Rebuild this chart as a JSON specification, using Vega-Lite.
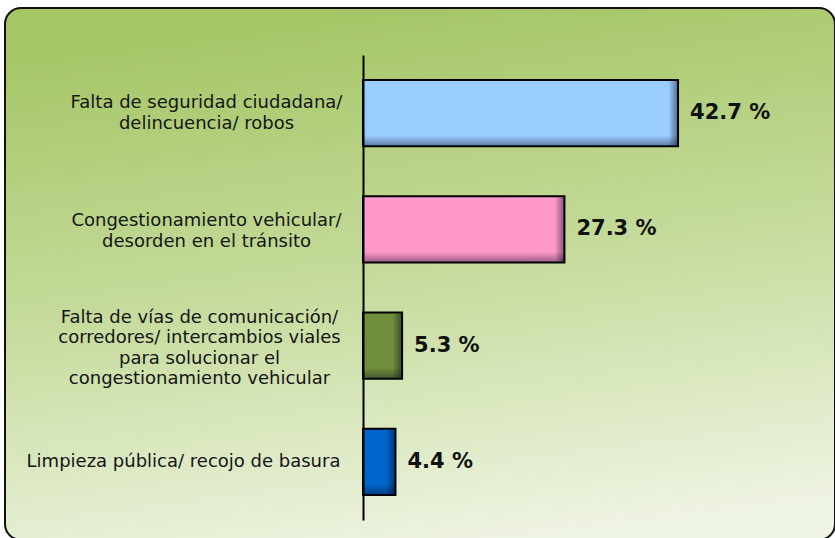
{
  "$schema": "https://vega.github.io/schema/vega-lite/v6.json",
  "width": 830,
  "height": 532,
  "autosize": "none",
  "padding": {"left": 5, "top": 8, "right": 0, "bottom": 0},
  "background": "white",
  "config": {"view": {"stroke": null}},
  "datasets": {
    "bars": [
      {"cat": "Falta de seguridad ciudadana/|delincuencia/ robos", "pct": 42.7, "lab": "42.7 %"},
      {"cat": "Congestionamiento vehicular/|desorden en el tránsito", "pct": 27.3, "lab": "27.3 %"},
      {"cat": "Falta de vías de comunicación/|corredores/ intercambios viales|para solucionar el|congestionamiento vehicular", "pct": 5.3, "lab": "5.3 %"},
      {"cat": "Limpieza pública/ recojo de basura", "pct": 4.4, "lab": "4.4 %"}
    ]
  },
  "layer": [
    {
      "data": {"values": [{"frame": 1}]},
      "mark": {
        "type": "rect",
        "cornerRadius": 16,
        "stroke": "#111111",
        "strokeWidth": 2,
        "fill": {
          "gradient": "linear",
          "x1": 0.4, "y1": 0, "x2": 0.6, "y2": 1,
          "stops": [
            {"offset": 0, "color": "#a4c665"},
            {"offset": 0.5, "color": "#c6db9c"},
            {"offset": 1, "color": "#eef4e2"}
          ]
        }
      },
      "encoding": {
        "x": {"value": 0},
        "x2": {"value": "width"},
        "y": {"value": 0},
        "y2": {"value": "height"}
      }
    },
    {
      "data": {"name": "bars"},
      "mark": {"type": "bar", "strokeWidth": 0},
      "encoding": {
        "y": {
          "field": "cat", "type": "nominal", "sort": null,
          "scale": {"range": [47, 512], "paddingInner": 0.431, "paddingOuter": 0.2155},
          "axis": {
            "title": null,
            "zindex": 1,
            "offset": -358,
            "ticks": false,
            "tickSize": 0,
            "domainColor": "#000000",
            "domainWidth": 2,
            "labelExpr": "split(datum.label, '|')",
            "labelAlign": "center",
            "labelBaseline": "middle",
            "labelFont": "DejaVu Sans",
            "labelFontSize": 18,
            "labelLineHeight": 20.5,
            "labelColor": "#151515",
            "labelLimit": 500,
            "labelOffset": {
              "condition": [
                {"test": "datum.value === 'Falta de seguridad ciudadana/|delincuencia/ robos'", "value": -10},
                {"test": "datum.value === 'Congestionamiento vehicular/|desorden en el tránsito'", "value": -8},
                {"test": "datum.value === 'Falta de vías de comunicación/|corredores/ intercambios viales|para solucionar el|congestionamiento vehicular'", "value": -28}
              ],
              "value": 0
            },
            "labelPadding": {
              "condition": [
                {"test": "datum.value === 'Falta de seguridad ciudadana/|delincuencia/ robos'", "value": 157},
                {"test": "datum.value === 'Congestionamiento vehicular/|desorden en el tránsito'", "value": 157},
                {"test": "datum.value === 'Falta de vías de comunicación/|corredores/ intercambios viales|para solucionar el|congestionamiento vehicular'", "value": 164}
              ],
              "value": 180
            }
          }
        },
        "x": {"field": "pct", "type": "quantitative", "scale": {"domain": [0, 50], "range": [358, 726.9]}, "axis": null},
        "color": {
          "field": "cat", "type": "nominal", "sort": null, "legend": null,
          "scale": {"range": ["#99ccff", "#ff99cc", "#6f8f3d", "#0066cc"]}
        }
      }
    },
    {
      "data": {"name": "bars"},
      "mark": {
        "type": "tick", "size": 64, "thickness": 9, "xOffset": -5, "opacity": 1, "filled": true,
        "fill": {
          "gradient": "linear", "x1": 0, "y1": 0, "x2": 1, "y2": 0,
          "stops": [
            {"offset": 0, "color": "rgba(0,0,0,0)"},
            {"offset": 1, "color": "rgba(0,0,40,0.45)"}
          ]
        }
      },
      "encoding": {
        "y": {"field": "cat", "type": "nominal", "sort": null},
        "x": {"field": "pct", "type": "quantitative", "axis": null}
      }
    },
    {
      "data": {"name": "bars"},
      "mark": {
        "type": "bar", "stroke": "#000000", "strokeWidth": 2,
        "fill": {
          "gradient": "linear", "x1": 0, "y1": 0, "x2": 0, "y2": 1,
          "stops": [
            {"offset": 0, "color": "rgba(0,0,0,0)"},
            {"offset": 0.84, "color": "rgba(0,0,0,0)"},
            {"offset": 1, "color": "rgba(0,0,40,0.4)"}
          ]
        }
      },
      "encoding": {
        "y": {"field": "cat", "type": "nominal", "sort": null},
        "x": {"field": "pct", "type": "quantitative", "axis": null}
      }
    },
    {
      "data": {"name": "bars"},
      "mark": {
        "type": "text", "align": "left", "baseline": "middle", "dx": 12,
        "font": "DejaVu Sans", "fontSize": 21, "fontWeight": "bold", "color": "#111111"
      },
      "encoding": {
        "y": {"field": "cat", "type": "nominal", "sort": null},
        "x": {"field": "pct", "type": "quantitative", "axis": null},
        "text": {"field": "lab"}
      }
    }
  ]
}
